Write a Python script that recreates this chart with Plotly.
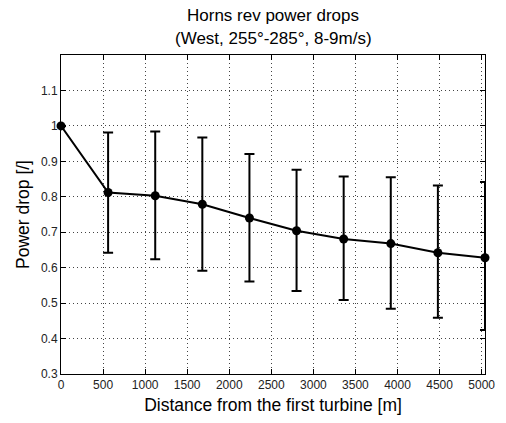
import plotly.graph_objects as go

distance = [0, 560, 1120, 1680, 2240, 2800, 3360, 3920, 4480, 5040]
power_drop = [1.0, 0.812, 0.803, 0.779, 0.740, 0.704, 0.681, 0.668, 0.642, 0.628]
err_upper = [None, 0.981, 0.984, 0.967, 0.921, 0.876, 0.857, 0.855, 0.832, 0.842]
err_lower = [None, 0.642, 0.624, 0.591, 0.561, 0.534, 0.509, 0.484, 0.459, 0.424]

plus = [0 if u is None else u - v for u, v in zip(err_upper, power_drop)]
minus = [0 if l is None else v - l for l, v in zip(err_lower, power_drop)]

x_ticks = [0, 500, 1000, 1500, 2000, 2500, 3000, 3500, 4000, 4500, 5000]
y_ticks = [0.3, 0.4, 0.5, 0.6, 0.7, 0.8, 0.9, 1.0, 1.1]
y_tick_labels = ["0.3", "0.4", "0.5", "0.6", "0.7", "0.8", "0.9", "1", "1.1"]

title_lines = ["Horns rev power drops", "(West, 255°-285°, 8-9m/s)"]

FONT = "Liberation Sans, Arial"

fig = go.Figure()
fig.add_trace(go.Scatter(
    x=distance, y=power_drop, mode="lines+markers",
    line=dict(color="black", width=2),
    marker=dict(color="black", size=9),
    error_y=dict(type="data", symmetric=False, array=plus, arrayminus=minus,
                 color="black", thickness=2, width=5),
    showlegend=False, cliponaxis=False,
))

axis_common = dict(
    showline=True, linecolor="black", linewidth=1, mirror="ticks",
    ticks="inside", ticklen=5, tickcolor="black",
    showgrid=True, gridcolor="#444", griddash="1px,3px", gridwidth=1,
    zeroline=False,
    tickfont=dict(family=FONT, size=12, color="#222"),
)

fig.update_layout(
    width=506, height=423,
    margin=dict(l=61, r=11, t=55, b=42),
    paper_bgcolor="white", plot_bgcolor="white",
    xaxis=dict(
        range=[0, 5040], tickvals=x_ticks,
        title=dict(text="Distance from the first turbine [m]", standoff=7,
                   font=dict(family=FONT, size=17.5, color="black")),
        **axis_common,
    ),
    yaxis=dict(
        range=[0.3, 1.2], tickvals=y_ticks, ticktext=y_tick_labels,
        title=dict(text="Power drop [/]", standoff=6,
                   font=dict(family=FONT, size=17.5, color="black")),
        **axis_common,
    ),
)

for i, line in enumerate(title_lines):
    fig.add_annotation(
        text=line, xref="paper", yref="paper", x=0.5, xanchor="center",
        y=1 + (40 - 23 * i) / 327.0, yanchor="middle", showarrow=False,
        font=dict(family=FONT, size=17, color="black"),
    )

fig.write_html("out.html")
